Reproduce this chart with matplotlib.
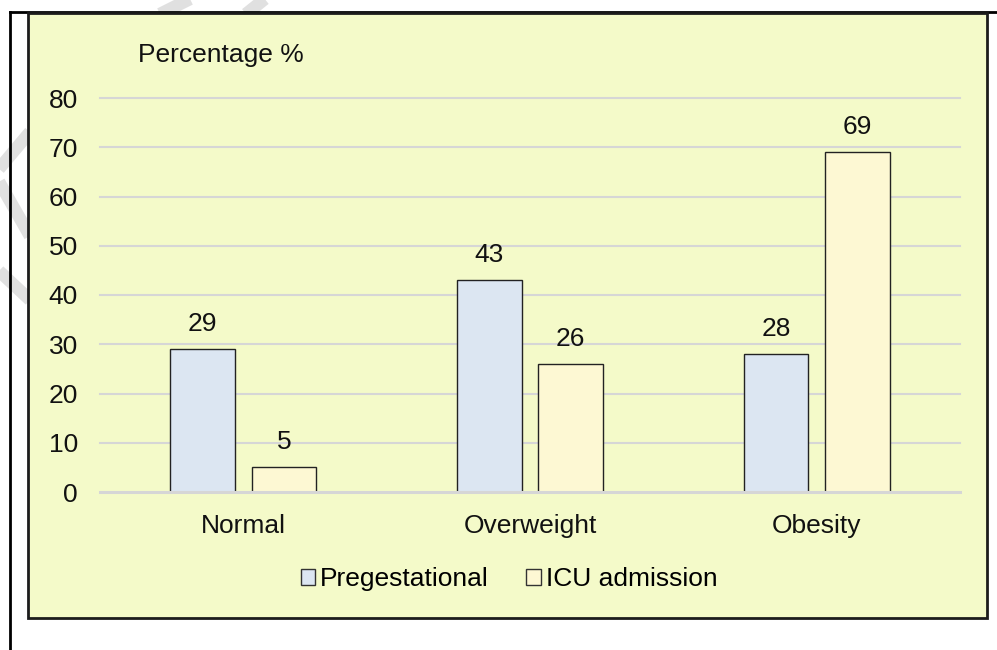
import matplotlib
matplotlib.use("Agg")
import matplotlib.pyplot as plt
import numpy as np
from matplotlib.lines import Line2D
from matplotlib.patches import Patch, Rectangle

W, H = 997, 650
BG = "#f4fac9"
BLUE = "#dce6f2"
YELLOW = "#fdf8d3"
GRID = "#d6d6d6"

categories = ["Normal", "Overweight", "Obesity"]
pregestational = [29, 43, 28]
icu_admission = [5, 26, 69]
y_ticks = [0, 10, 20, 30, 40, 50, 60, 70, 80]

plt.rcParams["font.family"] = ["Liberation Sans", "DejaVu Sans"]
FS = 19


def px(x, y):
    return x / W, 1 - y / H


fig = plt.figure(figsize=(W / 100, H / 100), dpi=100)
fig.patch.set_facecolor("white")

# faint watermark strokes outside the chart box
stripes = [
    [(192, -2), (160, 14)],
    [(266, -2), (246, 14)],
    [(30, 132), (-2, 170)],
    [(-2, 180), (30, 236)],
    [(-2, 270), (30, 300)],
]
for (x0, y0), (x1, y1) in stripes:
    fig.add_artist(Line2D([x0 / W, x1 / W], [1 - y0 / H, 1 - y1 / H],
                          color="#e0e0e0", lw=9, solid_capstyle="butt", zorder=0))

# outer frame lines
fig.add_artist(Line2D([10 / W, 10 / W], [1 - 12 / H, 0], color="black", lw=2, zorder=1))
fig.add_artist(Line2D([10 / W, 1], [1 - 12 / H, 1 - 12 / H], color="black", lw=2, zorder=1))

# yellow chart box
x0, y0 = px(28, 618)
fig.add_artist(Rectangle((x0, y0), (987 - 28) / W, (618 - 13) / H,
                         facecolor=BG, edgecolor="#1c1c1c", lw=2,
                         transform=fig.transFigure, zorder=1))

ymax = 80.5
top_px = 492 - ymax * (492 - 98) / 80
ax = fig.add_axes([100 / W, 1 - 492 / H, 860 / W, (492 - top_px) / H], zorder=2)
ax.patch.set_alpha(0)

x = np.arange(len(categories))
bw = 0.225
off = 0.142
ax.bar(x - off, pregestational, bw, color=BLUE, edgecolor="#222222", lw=1, zorder=3)
ax.bar(x + off, icu_admission, bw, color=YELLOW, edgecolor="#222222", lw=1, zorder=3)

for xi, v in zip(x - off, pregestational):
    ax.annotate(str(v), (xi, v), xytext=(0, 18), textcoords="offset points",
                ha="center", va="center", fontsize=FS, color="#111111")
for xi, v in zip(x + off, icu_admission):
    ax.annotate(str(v), (xi, v), xytext=(0, 18), textcoords="offset points",
                ha="center", va="center", fontsize=FS, color="#111111")

ax.set_xlim(-0.5, len(categories) - 0.5)
ax.set_ylim(0, ymax)
ax.set_yticks(y_ticks)
ax.set_xticks(x)
ax.set_xticklabels(categories)
for yv in y_ticks:
    ax.axhline(yv, color=GRID, lw=2.2 if yv == 0 else 1.5,
               zorder=4 if yv == 0 else 2, clip_on=False)
for s in ax.spines.values():
    s.set_visible(False)
ax.tick_params(axis="both", length=0, labelsize=FS, colors="#111111")
ax.tick_params(axis="y", pad=16)
ax.tick_params(axis="x", pad=16)

fig.text(138 / W, 1 - 55 / H, "Percentage %", fontsize=FS, ha="left", va="center",
         color="#111111", zorder=3)

handles = [Patch(facecolor=BLUE, edgecolor="#333333", lw=1),
           Patch(facecolor=YELLOW, edgecolor="#333333", lw=1)]
fig.legend(handles, ["Pregestational", "ICU admission"], loc="center",
           bbox_to_anchor=px(509, 579), ncol=2, frameon=False, fontsize=FS,
           handlelength=0.55, handleheight=0.55, handletextpad=0.2,
           columnspacing=1.4, borderpad=0)

fig.savefig("out.png", dpi=100)
